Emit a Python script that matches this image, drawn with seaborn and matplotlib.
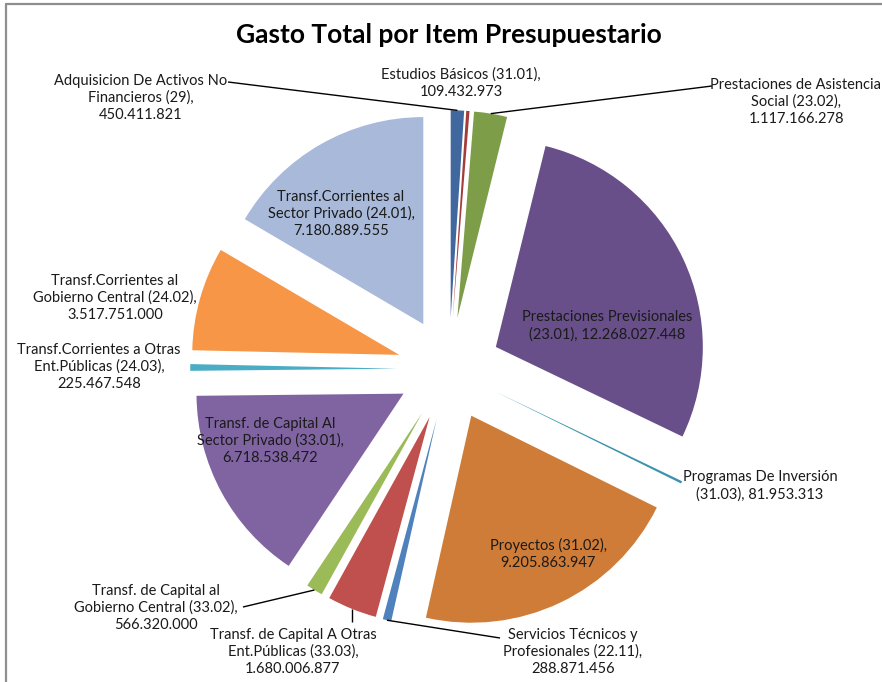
import matplotlib
matplotlib.use("Agg")
import matplotlib.pyplot as plt
import seaborn as sns
import numpy as np
from matplotlib.lines import Line2D

# ---------------- data ----------------
names = [
    "Adquisicion De Activos No\nFinancieros",
    "Estudios Básicos",
    "Prestaciones de Asistencia\nSocial",
    "Prestaciones Previsionales\n",
    "Programas De Inversión\n",
    "Proyectos",
    "Servicios Técnicos y\nProfesionales",
    "Transf. de Capital A Otras\nEnt.Públicas",
    "Transf. de Capital al\nGobierno Central",
    "Transf. de Capital Al\nSector Privado",
    "Transf.Corrientes a Otras\nEnt.Públicas",
    "Transf.Corrientes al\nGobierno Central",
    "Transf.Corrientes al\nSector Privado",
]
codes = ["29", "31.01", "23.02", "23.01", "31.03", "31.02", "22.11",
         "33.03", "33.02", "33.01", "24.03", "24.02", "24.01"]
values = [450411821, 109432973, 1117166278, 12268027448, 81953313,
          9205863947, 288871456, 1680006877, 566320000, 6718538472,
          225467548, 3517751000, 7180889555]
colors = ["#41689E", "#A33D3A", "#7E9D49", "#684F89", "#3A93AB", "#CE7C37",
          "#4F81BD", "#C0504D", "#9BBB59", "#8064A2", "#4BACC6", "#F79646",
          "#A8B9DA"]
title = "Gasto Total por Item Presupuestario"

# ---------------- style ----------------
sns.set_theme(style="white")
plt.rcParams["font.family"] = ["Lato", "DejaVu Sans"]

W, H = 882, 682
CX, CY, R = 449, 369, 207   # pie centre / radius in pixels

fig = plt.figure(figsize=(W / 100, H / 100), dpi=100)
ax = fig.add_axes([0, 0, 1, 1])

def px(x, y):
    return (x - CX) / R, (CY - y) / R

def fmt(v):
    return f"{v:,}".replace(",", ".")

labels = []
for n, c, v in zip(names, codes, values):
    if n.endswith("\n"):
        labels.append(f"{n}({c}), {fmt(v)}")
    else:
        labels.append(f"{n} ({c}),\n{fmt(v)}")

wedges, _ = ax.pie(values, colors=colors, startangle=90, counterclock=False,
                   explode=[0.25] * len(values), radius=1,
                   wedgeprops=dict(linewidth=0, edgecolor="none"))

ax.set_aspect("auto")
ax.set_xlim(-CX / R, (W - CX) / R)
ax.set_ylim(-(H - CY) / R, CY / R)
ax.axis("off")

# label centres (pixel coords) - layout
label_pos = [(141, 98), (461, 83), (796, 102), (607, 326), (760, 486),
             (548, 554), (573, 652), (293, 652), (156, 608), (270, 441),
             (99, 367), (115, 298), (341, 214)]
for lab, (lx, ly) in zip(labels, label_pos):
    x, y = px(lx, ly)
    ax.text(x, y, lab, ha="center", va="center", fontsize=10.5,
            color="#1a1a1a", linespacing=1.25)

# leader lines: (slice index, start pixel, optional mid pixel)
leaders = {0: [(228, 82)], 2: [(712, 86)], 6: [(500, 638)],
           7: [None], 8: [(243, 607)]}
for i, pts in leaders.items():
    w = wedges[i]
    mid = np.deg2rad((w.theta1 + w.theta2) / 2)
    ax_, ay_ = w.center[0] + w.r * np.cos(mid), w.center[1] + w.r * np.sin(mid)
    if pts[0] is None:
        ex, ey = ax_, px(0, 622)[1]
    else:
        ex, ey = px(*pts[0])
    ax.plot([ex, ax_], [ey, ay_], color="black", lw=1.0, solid_capstyle="butt")

# title
fig.text(449 / W, 1 - 35 / H, title, ha="center", va="center",
         fontsize=19, fontweight="bold", color="black")

# chart border (top and left visible)
fig.add_artist(Line2D([6 / W, 1], [1 - 4 / H, 1 - 4 / H], color="#8f8f8f",
                      lw=1.6, transform=fig.transFigure))
fig.add_artist(Line2D([6 / W, 6 / W], [1 - 4 / H, 0], color="#8f8f8f",
                      lw=1.6, transform=fig.transFigure))

fig.savefig("out.png", dpi=100, facecolor="white")
